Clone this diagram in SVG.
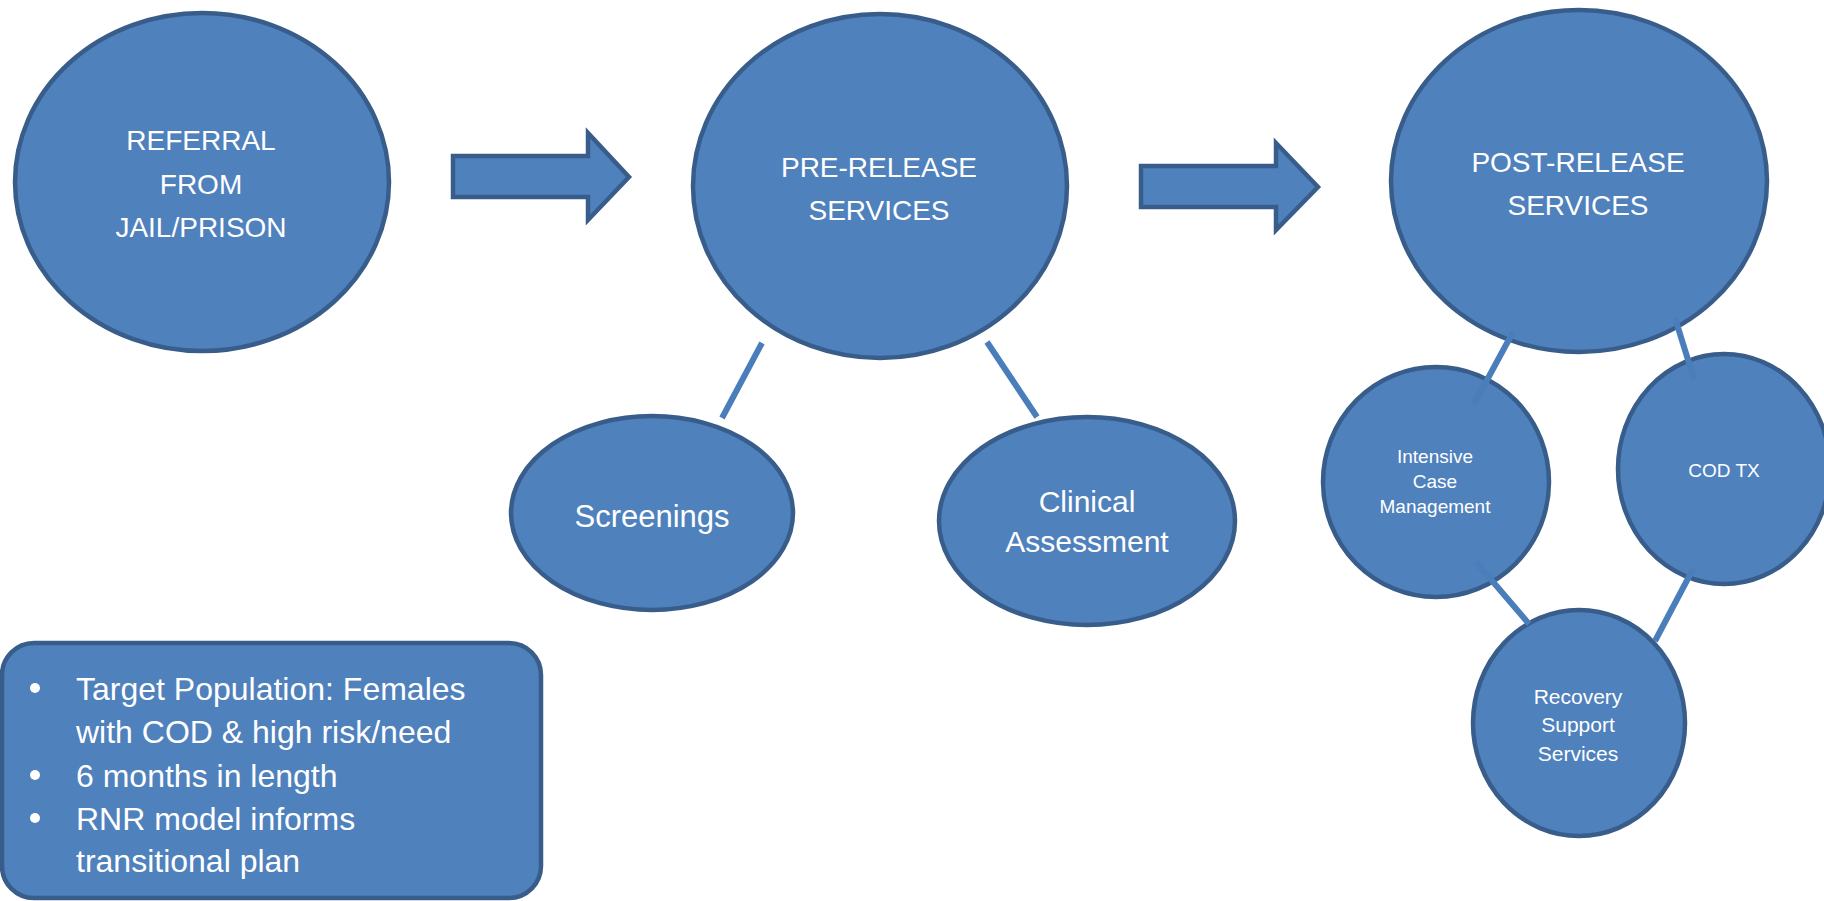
<svg xmlns="http://www.w3.org/2000/svg" width="1824" height="901" viewBox="0 0 1824 901">
<style>
.n{fill:#4f81bd;stroke:#385d8a;stroke-width:4.5}
.t{fill:#ffffff;font-family:"Liberation Sans",Arial,sans-serif;text-anchor:middle}
.c{stroke:#4a7ebb;stroke-width:6;fill:none}
.b{fill:#ffffff;font-family:"Liberation Sans",Arial,sans-serif;font-size:32px}
</style>
<rect width="1824" height="901" fill="#ffffff"/>
<g id="referral">
<ellipse class="n" cx="202" cy="182" rx="187" ry="169"/>
<text class="t" font-size="28" x="201" y="150">REFERRAL</text>
<text class="t" font-size="28" x="201" y="194">FROM</text>
<text class="t" font-size="28" x="201" y="237">JAIL/PRISON</text>
</g>
<g id="arrow1">
<polygon class="n" points="453,156 588,156 588,133 629,177 588,220 588,197 453,197"/>
</g>
<g id="pre-release">
<ellipse class="n" cx="880" cy="186" rx="187" ry="172"/>
<text class="t" font-size="28" x="879" y="177">PRE-RELEASE</text>
<text class="t" font-size="28" x="879" y="220">SERVICES</text>
</g>
<g id="arrow2">
<polygon class="n" points="1141,166 1276,166 1276,143 1318,187 1276,230 1276,207 1141,207"/>
</g>
<g id="post-release">
<ellipse class="n" cx="1579" cy="181" rx="188" ry="171"/>
<text class="t" font-size="28" x="1578" y="172">POST-RELEASE</text>
<text class="t" font-size="28" x="1578" y="215">SERVICES</text>
</g>
<g id="screenings">
<ellipse class="n" cx="652" cy="513" rx="141" ry="97"/>
<text class="t" font-size="31" x="652" y="527">Screenings</text>
</g>
<g id="clinical">
<ellipse class="n" cx="1087" cy="521" rx="148" ry="104"/>
<text class="t" font-size="30" x="1087" y="512">Clinical</text>
<text class="t" font-size="30" x="1087" y="552">Assessment</text>
</g>
<g id="icm">
<ellipse class="n" cx="1436" cy="482" rx="113" ry="115"/>
<text class="t" font-size="19" x="1435" y="463">Intensive</text>
<text class="t" font-size="19" x="1435" y="488">Case</text>
<text class="t" font-size="19" x="1435" y="513">Management</text>
</g>
<g id="codtx">
<ellipse class="n" cx="1724" cy="469" rx="106" ry="115"/>
<text class="t" font-size="19" x="1724" y="477">COD TX</text>
</g>
<g id="recovery">
<ellipse class="n" cx="1579" cy="723" rx="106" ry="113"/>
<text class="t" font-size="21" x="1578" y="704">Recovery</text>
<text class="t" font-size="21" x="1578" y="732">Support</text>
<text class="t" font-size="21" x="1578" y="761">Services</text>
</g>
<g id="connectors">
<line class="c" x1="762" y1="343" x2="722" y2="418"/>
<line class="c" x1="987" y1="342" x2="1037" y2="417"/>
<line class="c" x1="1513" y1="332" x2="1474" y2="404"/>
<line class="c" x1="1675" y1="318" x2="1694" y2="379"/>
<line class="c" x1="1476" y1="562" x2="1529" y2="624"/>
<line class="c" x1="1693" y1="569" x2="1655" y2="641"/>
</g>
<g id="summary">
<rect class="n" x="2" y="643" width="539" height="255" rx="32" ry="32"/>
<circle cx="35" cy="688" r="5" fill="#ffffff"/>
<circle cx="35" cy="775" r="5" fill="#ffffff"/>
<circle cx="35" cy="818" r="5" fill="#ffffff"/>
<text class="b" x="76" y="700">Target Population: Females</text>
<text class="b" x="76" y="743">with COD &amp; high risk/need</text>
<text class="b" x="76" y="787">6 months in length</text>
<text class="b" x="76" y="830">RNR model informs</text>
<text class="b" x="76" y="872">transitional plan</text>
</g>
</svg>
